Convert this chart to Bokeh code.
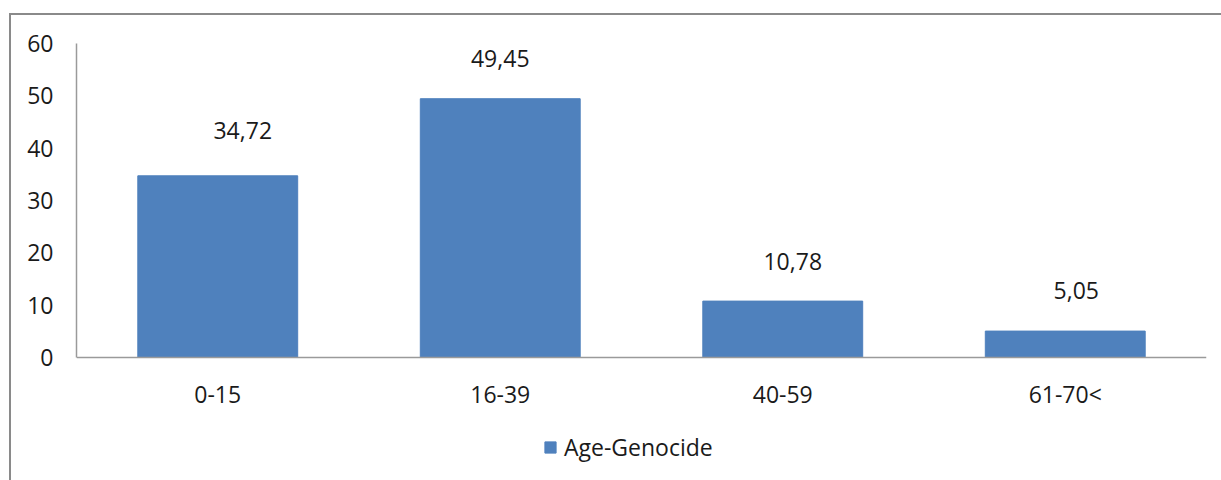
from bokeh.plotting import figure
from bokeh.models import ColumnDataSource, FixedTicker, Legend, LegendItem
from bokeh.core.properties import value
from bokeh.embed import file_html
from bokeh.resources import INLINE

categories = ["0-15", "16-39", "40-59", "61-70<"]
values = [34.72, 49.45, 10.78, 5.05]
value_labels = ["34,72", "49,45", "10,78", "5,05"]
series_name = "Age-Genocide"
y_ticks = [0, 10, 20, 30, 40, 50, 60]

# label placement styles (pixel offsets)
label_dx = [25, 0, 10, 11]
label_dy = [-45, -40, -40, -41]

FONT = "Open Sans"
BLUE = "#4F81BD"

src = ColumnDataSource(dict(cat=categories, val=values, lab=value_labels,
                            dx=label_dx, dy=label_dy))

# frame extends below zero so the legend area sits inside the plot frame
p = figure(x_range=categories, y_range=(-23.5, 60), frame_width=1130, frame_height=437,
           output_backend="svg", toolbar_location=None,
           min_border_left=65, min_border_top=28, min_border_right=15,
           min_border_bottom=0)
p.styles = {"margin-left": "9px", "margin-top": "13px",
            "border-left": "2px solid #8a8a8a", "border-top": "2px solid #8a8a8a"}
p.x_range.range_padding = 0
p.outline_line_color = None
p.xgrid.grid_line_color = None
p.ygrid.grid_line_color = None

r = p.vbar(x="cat", top="val", width=0.566, source=src, fill_color=BLUE,
           line_color=BLUE)

p.text(x="cat", y="val", text="lab", x_offset="dx", y_offset="dy", source=src,
       text_align="center", text_baseline="middle",
       text_font=value(FONT), text_font_size="23px", text_color="#1a1a1a")

for ax in (p.xaxis[0], p.yaxis[0]):
    ax.axis_line_color = "#9a9a9a"
    ax.axis_line_width = 1.5
    ax.major_tick_line_color = None
    ax.minor_tick_line_color = None
    ax.major_tick_out = 0
    ax.major_tick_in = 0
    ax.major_label_text_font = FONT
    ax.major_label_text_font_size = "23px"
    ax.major_label_text_color = "#1a1a1a"

p.yaxis[0].ticker = FixedTicker(ticks=y_ticks)
p.yaxis[0].bounds = (0, 60)
p.yaxis[0].major_label_standoff = 23
p.xaxis[0].fixed_location = 0
p.xaxis[0].major_label_standoff = 20

legend = Legend(items=[LegendItem(label=series_name, renderers=[r])],
                orientation="horizontal", location=(467, 17),
                glyph_width=14, glyph_height=14, label_standoff=7,
                padding=0, margin=0, spacing=0, border_line_color=None,
                background_fill_alpha=0,
                label_text_font=FONT, label_text_font_size="23px",
                label_text_color="#1a1a1a")
p.add_layout(legend, "center")

open("out.html", "w").write(file_html(p, INLINE))
